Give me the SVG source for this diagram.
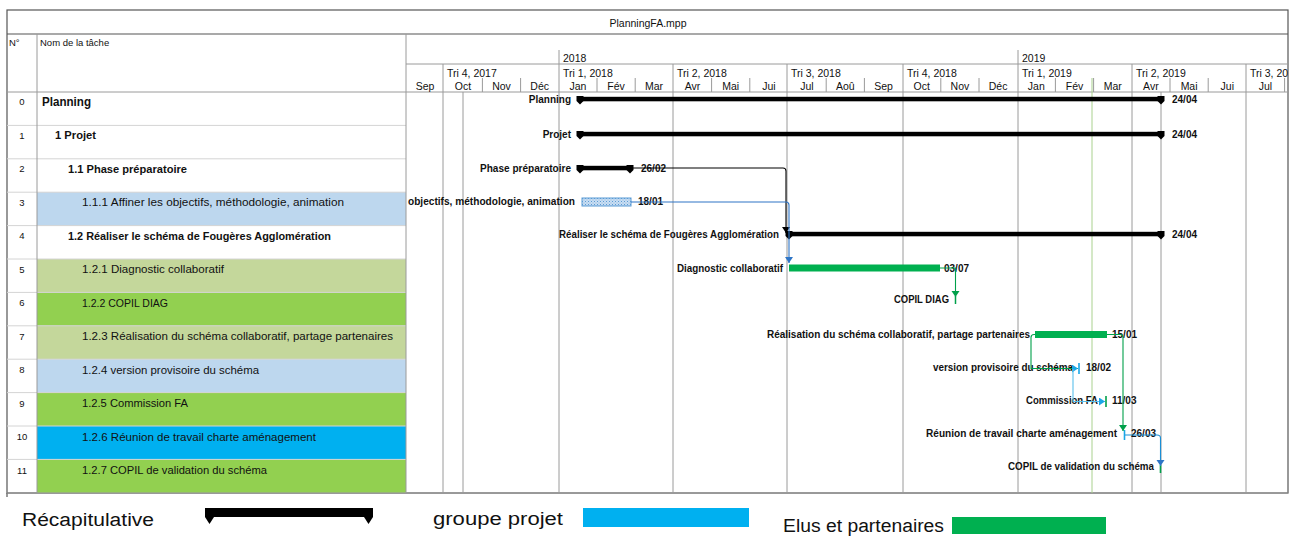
<svg xmlns="http://www.w3.org/2000/svg" width="1296" height="536" viewBox="0 0 1296 536">
<style>
text{font-family:"Liberation Sans",Arial,sans-serif;fill:#111}
.hd{font-size:10.5px}
.tn{font-size:10.5px}
.tb{font-size:10.5px;font-weight:bold}
.num{font-size:9.5px;text-anchor:middle}
.gl{font-size:10px;font-weight:bold;text-anchor:end}
.dt{font-size:10px;font-weight:bold}
.grid{stroke:#9a9a9a;stroke-width:1;fill:none}
.frame{stroke:#555;stroke-width:1.2;fill:none}
.rowl{stroke:#d4d4d4;stroke-width:1}
.sum{fill:#000}
.lg{font-size:18px}
</style>
<defs>
<clipPath id="gclip"><rect x="406" y="34" width="882" height="460"/></clipPath>
<pattern id="hatch" width="3" height="3" patternUnits="userSpaceOnUse"><rect width="3" height="3" fill="#c9def2"/><rect width="1" height="1" fill="#5b9bd5"/><rect x="1.5" y="1.5" width="1" height="1" fill="#8fb8e3"/></pattern>
<marker id="ak" markerUnits="userSpaceOnUse" markerWidth="10" markerHeight="10" refX="6" refY="4" orient="auto"><path d="M0,0 L6,4 L0,8 z" fill="#000"/></marker>
<marker id="ab" markerUnits="userSpaceOnUse" markerWidth="10" markerHeight="10" refX="6" refY="4" orient="auto"><path d="M0,0 L6,4 L0,8 z" fill="#2e75c6"/></marker>
<marker id="ag" markerUnits="userSpaceOnUse" markerWidth="10" markerHeight="10" refX="6" refY="4" orient="auto"><path d="M0,0 L6,4 L0,8 z" fill="#00a04a"/></marker>
<marker id="ac" markerUnits="userSpaceOnUse" markerWidth="10" markerHeight="10" refX="6" refY="4" orient="auto"><path d="M0,0 L6,4 L0,8 z" fill="#1aa6e6"/></marker>
<path id="cap" d="M-3.5,-3 h7 v5 l-3.5,3.5 l-3.5,-3.5 z"/>
</defs>

<!-- frame & table structure -->
<g id="frame">
<rect x="0" y="0" width="1296" height="536" fill="#fff"/>
<rect class="frame" x="7" y="10" width="1281" height="483"/>
<line class="frame" x1="7" y1="34" x2="1288" y2="34"/>
<line class="frame" x1="7" y1="493" x2="7" y2="497"/>
<text class="hd" x="648" y="27" text-anchor="middle">PlanningFA.mpp</text>
<text class="hd" x="9" y="46" style="font-size:9.5px">N°</text>
<text class="hd" x="40" y="46" style="font-size:9.5px">Nom de la tâche</text>
</g>

<!-- row backgrounds -->
<g id="rowbg">
<rect x="37" y="192.2" width="369" height="33.4" fill="#bdd7ee"/>
<rect x="37" y="259" width="369" height="33.4" fill="#c4d79b"/>
<rect x="37" y="292.4" width="369" height="33.4" fill="#92d050"/>
<rect x="37" y="325.8" width="369" height="33.4" fill="#c4d79b"/>
<rect x="37" y="359.2" width="369" height="33.4" fill="#bdd7ee"/>
<rect x="37" y="392.6" width="369" height="33.4" fill="#92d050"/>
<rect x="37" y="426" width="369" height="33.4" fill="#00b0f0"/>
<rect x="37" y="459.4" width="369" height="33.4" fill="#92d050"/>
<g class="rowl">
<line x1="7" y1="125.4" x2="406" y2="125.4"/><line x1="7" y1="158.8" x2="406" y2="158.8"/>
<line x1="7" y1="192.2" x2="406" y2="192.2"/><line x1="7" y1="225.6" x2="406" y2="225.6"/>
<line x1="7" y1="259" x2="406" y2="259"/><line x1="7" y1="292.4" x2="406" y2="292.4"/>
<line x1="7" y1="325.8" x2="406" y2="325.8"/><line x1="7" y1="359.2" x2="406" y2="359.2"/>
<line x1="7" y1="392.6" x2="406" y2="392.6"/><line x1="7" y1="426" x2="406" y2="426"/>
<line x1="7" y1="459.4" x2="406" y2="459.4"/>
</g>
<line class="grid" x1="37" y1="34" x2="37" y2="493"/>
<line class="grid" x1="406" y1="34" x2="406" y2="493"/>
<line class="grid" x1="7" y1="92" x2="1288" y2="92"/>
<line class="grid" x1="7" y1="493" x2="1288" y2="493"/>
</g>

<!-- timescale -->
<g id="timescale" clip-path="url(#gclip)">
<line class="grid" x1="406" y1="64" x2="1288" y2="64"/>
<line class="grid" x1="559" y1="50" x2="559" y2="64"/>
<line class="grid" x1="1018" y1="50" x2="1018" y2="64"/>
<text class="hd" x="563" y="62">2018</text>
<text class="hd" x="1022" y="62">2019</text>
<g class="hd">
<text x="447" y="77">Tri 4, 2017</text><text x="563" y="77">Tri 1, 2018</text>
<text x="677" y="77">Tri 2, 2018</text><text x="791" y="77">Tri 3, 2018</text>
<text x="907" y="77">Tri 4, 2018</text><text x="1022" y="77">Tri 1, 2019</text>
<text x="1136" y="77">Tri 2, 2019</text><text x="1250" y="77">Tri 3, 2019</text>
</g>
<g class="hd" text-anchor="middle">
<text x="425" y="90">Sep</text><text x="463" y="90">Oct</text><text x="501.5" y="90">Nov</text><text x="539.7" y="90">Déc</text>
<text x="578" y="90">Jan</text><text x="616" y="90">Fév</text><text x="654" y="90">Mar</text>
<text x="692.5" y="90">Avr</text><text x="730.7" y="90">Mai</text><text x="768.9" y="90">Jui</text>
<text x="807" y="90">Jul</text><text x="845.3" y="90">Aoû</text><text x="883.5" y="90">Sep</text>
<text x="921.7" y="90">Oct</text><text x="959.9" y="90">Nov</text><text x="998.1" y="90">Déc</text>
<text x="1036.3" y="90">Jan</text><text x="1074.5" y="90">Fév</text><text x="1112.7" y="90">Mar</text>
<text x="1150.9" y="90">Avr</text><text x="1189.1" y="90">Mai</text><text x="1227.3" y="90">Jui</text>
<text x="1265.5" y="90">Jul</text>
</g>
<g class="grid">
<line x1="482.4" y1="78" x2="482.4" y2="92"/><line x1="520.6" y1="78" x2="520.6" y2="92"/>
<line x1="597" y1="78" x2="597" y2="92"/><line x1="635.2" y1="78" x2="635.2" y2="92"/>
<line x1="711.6" y1="78" x2="711.6" y2="92"/><line x1="749.8" y1="78" x2="749.8" y2="92"/>
<line x1="826.2" y1="78" x2="826.2" y2="92"/><line x1="864.4" y1="78" x2="864.4" y2="92"/>
<line x1="940.8" y1="78" x2="940.8" y2="92"/><line x1="979" y1="78" x2="979" y2="92"/>
<line x1="1055.4" y1="78" x2="1055.4" y2="92"/><line x1="1093.6" y1="78" x2="1093.6" y2="92"/>
<line x1="1170" y1="78" x2="1170" y2="92"/><line x1="1208.2" y1="78" x2="1208.2" y2="92"/>
<line x1="1284.6" y1="78" x2="1284.6" y2="92"/>
<line x1="443" y1="64" x2="443" y2="493"/><line x1="559" y1="64" x2="559" y2="493"/>
<line x1="673" y1="64" x2="673" y2="493"/><line x1="787" y1="64" x2="787" y2="493"/>
<line x1="903" y1="64" x2="903" y2="493"/><line x1="1018" y1="64" x2="1018" y2="493"/>
<line x1="1132" y1="64" x2="1132" y2="493"/><line x1="1246" y1="64" x2="1246" y2="493"/>
<line x1="463" y1="92" x2="463" y2="493"/><line x1="1161" y1="92" x2="1161" y2="493"/>
</g>
<line x1="1092" y1="78" x2="1092" y2="493" stroke="#a9d18e" stroke-width="1"/>
</g>

<!-- tasks -->
<g id="task0">
<text class="num" x="22" y="105">0</text>
<text x="42" y="106" style="font-size:12.5px;font-weight:bold" textLength="49" lengthAdjust="spacingAndGlyphs">Planning</text>
<rect class="sum" x="580" y="96.8" width="581" height="4.5"/>
<use href="#cap" x="580" y="99"/><use href="#cap" x="1161" y="99"/>
<text class="gl" x="571" y="103">Planning</text>
<text class="dt" x="1172" y="103">24/04</text>
</g>
<g id="task1">
<text class="num" x="22" y="138.5">1</text>
<text class="tb" x="55" y="139" textLength="41" lengthAdjust="spacingAndGlyphs">1 Projet</text>
<rect class="sum" x="580" y="131.8" width="581" height="4.5"/>
<use href="#cap" x="580" y="134"/><use href="#cap" x="1161" y="134"/>
<text class="gl" x="571" y="137.5">Projet</text>
<text class="dt" x="1172" y="137.5">24/04</text>
</g>
<g id="task2">
<text class="num" x="22" y="172">2</text>
<text class="tb" x="68" y="172.5" textLength="119" lengthAdjust="spacingAndGlyphs">1.1 Phase préparatoire</text>
<rect class="sum" x="580" y="165.8" width="51" height="4.5"/>
<use href="#cap" x="580" y="168"/><use href="#cap" x="630" y="168"/>
<text class="gl" x="571" y="171.5" textLength="91" lengthAdjust="spacingAndGlyphs">Phase préparatoire</text>
<text class="dt" x="641" y="171.5">26/02</text>
</g>
<g id="task3">
<text class="num" x="22" y="205.5">3</text>
<text class="tn" x="82" y="206" textLength="262" lengthAdjust="spacingAndGlyphs">1.1.1 Affiner les objectifs, méthodologie, animation</text>
<rect x="582" y="198" width="49" height="8" fill="url(#hatch)" stroke="#5b9bd5" stroke-width="1"/>
<text class="gl" x="575" y="205" textLength="167" lengthAdjust="spacingAndGlyphs">objectifs, méthodologie, animation</text>
<text class="dt" x="638" y="205">18/01</text>
</g>
<g id="task4">
<text class="num" x="22" y="239">4</text>
<text class="tb" x="68" y="239.5" textLength="263" lengthAdjust="spacingAndGlyphs">1.2 Réaliser le schéma de Fougères Agglomération</text>
<rect class="sum" x="789" y="231.8" width="372" height="4.5"/>
<use href="#cap" x="789" y="234"/><use href="#cap" x="1161" y="234"/>
<text class="gl" x="779" y="237.5" textLength="220" lengthAdjust="spacingAndGlyphs">Réaliser le schéma de Fougères Agglomération</text>
<text class="dt" x="1172" y="237.5">24/04</text>
</g>
<g id="task5">
<text class="num" x="22" y="272.5">5</text>
<text class="tn" x="82" y="273" textLength="142" lengthAdjust="spacingAndGlyphs">1.2.1 Diagnostic collaboratif</text>
<rect x="789" y="264.5" width="151" height="7" fill="#00b050"/>
<text class="gl" x="783" y="271.5" textLength="106" lengthAdjust="spacingAndGlyphs">Diagnostic collaboratif</text>
<text class="dt" x="944" y="271.5">03/07</text>
</g>
<g id="task6">
<text class="num" x="22" y="306">6</text>
<text class="tn" x="82" y="306.5" textLength="86" lengthAdjust="spacingAndGlyphs">1.2.2 COPIL DIAG</text>
<line x1="955.5" y1="296" x2="955.5" y2="304" stroke="#00a04a" stroke-width="1.5"/>
<text class="gl" x="949" y="303" textLength="55" lengthAdjust="spacingAndGlyphs">COPIL DIAG</text>
</g>
<g id="task7">
<text class="num" x="22" y="339.5">7</text>
<text class="tn" x="82" y="340" textLength="311" lengthAdjust="spacingAndGlyphs">1.2.3 Réalisation du schéma collaboratif, partage partenaires</text>
<rect x="1035" y="331" width="72" height="7" fill="#00b050"/>
<text class="gl" x="1030" y="338" textLength="263" lengthAdjust="spacingAndGlyphs">Réalisation du schéma collaboratif, partage partenaires</text>
<text class="dt" x="1112" y="338">15/01</text>
</g>
<g id="task8">
<text class="num" x="22" y="373">8</text>
<text class="tn" x="82" y="373.5" textLength="177" lengthAdjust="spacingAndGlyphs">1.2.4 version provisoire du schéma</text>
<line x1="1079" y1="363" x2="1079" y2="374" stroke="#1aa6e6" stroke-width="1.6"/>
<text class="gl" x="1073" y="371" textLength="140" lengthAdjust="spacingAndGlyphs">version provisoire du schéma</text>
<text class="dt" x="1086" y="371">18/02</text>
</g>
<g id="task9">
<text class="num" x="22" y="406.5">9</text>
<text class="tn" x="82" y="407" textLength="106" lengthAdjust="spacingAndGlyphs">1.2.5 Commission FA</text>
<line x1="1106" y1="396" x2="1106" y2="407" stroke="#00a04a" stroke-width="1.6"/>
<text class="gl" x="1098" y="404" textLength="72" lengthAdjust="spacingAndGlyphs">Commission FA</text>
<text class="dt" x="1112" y="404">11/03</text>
</g>
<g id="task10">
<text class="num" x="22" y="440">10</text>
<text class="tn" x="82" y="440.5" textLength="234" lengthAdjust="spacingAndGlyphs">1.2.6 Réunion de travail charte aménagement</text>
<line x1="1124.5" y1="430" x2="1124.5" y2="440" stroke="#1aa6e6" stroke-width="1.6"/>
<text class="gl" x="1117" y="437" textLength="191" lengthAdjust="spacingAndGlyphs">Réunion de travail charte aménagement</text>
<text class="dt" x="1131" y="437">26/03</text>
</g>
<g id="task11">
<text class="num" x="22" y="473.5">11</text>
<text class="tn" x="82" y="474" textLength="185" lengthAdjust="spacingAndGlyphs">1.2.7 COPIL de validation du schéma</text>
<line x1="1160.5" y1="465" x2="1160.5" y2="473" stroke="#00a04a" stroke-width="1.6"/>
<text class="gl" x="1154" y="470" textLength="146" lengthAdjust="spacingAndGlyphs">COPIL de validation du schéma</text>
</g>

<!-- connectors -->
<g id="connectors" fill="none" stroke-width="1.1">
<path d="M631,168 H783 Q786,168 786,171 V233" stroke="#000" marker-end="url(#ak)"/>
<path d="M631,202 H786 Q789,202 789,205 V263" stroke="#2e75c6" marker-end="url(#ab)"/>
<path d="M940,268 H955.5 V297" stroke="#00a04a" marker-end="url(#ag)"/>
<path d="M1035,334.5 H1034 Q1031,334.5 1031,337.5 V368.5 H1078" stroke="#00a04a" marker-end="url(#ac)"/>
<path d="M1073,369 V401.5 H1105" stroke="#5bc0eb" marker-end="url(#ac)"/>
<path d="M1107,334.5 H1120 Q1123,334.5 1123,337.5 V431" stroke="#00a04a" marker-end="url(#ag)"/>
<path d="M1125,435 H1157 Q1160.5,435 1160.5,438 V466" stroke="#1a8fd6" marker-end="url(#ab)"/>
</g>

<!-- legend -->
<g id="legend-recap">
<text class="lg" x="22" y="526" textLength="132" lengthAdjust="spacingAndGlyphs">Récapitulative</text>
<rect x="205" y="508" width="168" height="9" fill="#000"/>
<path d="M205,508 h9 v9 l-4.5,7 l-4.5,-7 z" fill="#000"/>
<path d="M364,508 h9 v9 l-4.5,7 l-4.5,-7 z" fill="#000"/>
</g>
<g id="legend-groupe">
<text class="lg" x="433" y="525" textLength="130" lengthAdjust="spacingAndGlyphs">groupe projet</text>
<rect x="583" y="508" width="166" height="19" fill="#00b0f0"/>
</g>
<g id="legend-elus">
<text class="lg" x="783" y="532" textLength="161" lengthAdjust="spacingAndGlyphs">Elus et partenaires</text>
<rect x="952" y="517" width="154" height="17" fill="#00b050"/>
</g>
</svg>
